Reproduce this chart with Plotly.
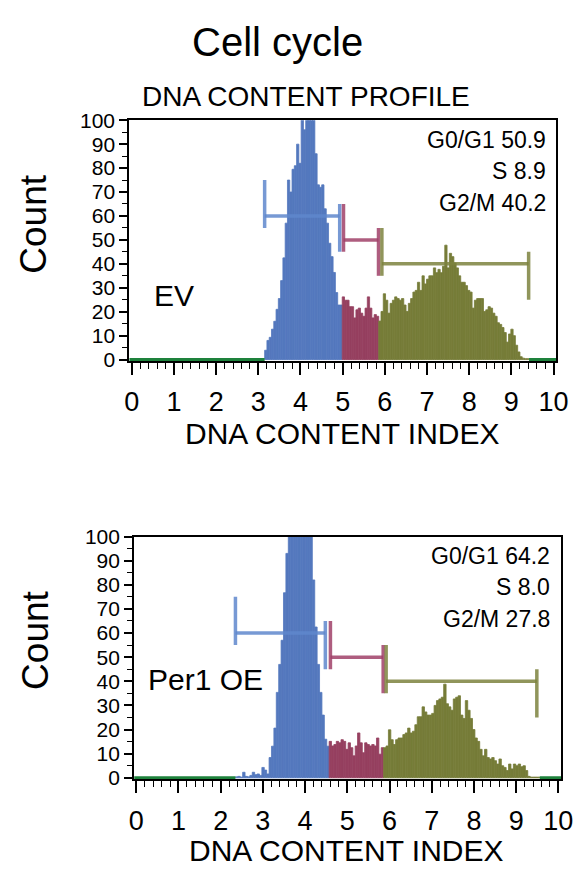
import plotly.graph_objects as go

W, H = 584, 877

# ---------------- data ----------------
# Top panel (EV): DNA content histogram split by cell-cycle phase
ev_g1_range = [3.15, 4.99]
ev_g1_counts = [3.9, 8, 9.3, 12.7, 16, 21, 25.5, 33, 42.5, 57, 75, 70, 79.5, 81, 90, 82,
                105, 96, 110, 112, 110, 108, 86, 73, 72, 73, 63, 57, 48.6, 43, 36.4, 28, 22.8, 22.8]
ev_s_range = [4.99, 5.855]
ev_s_counts = [26.2, 24.8, 24.8, 22.1, 22.1, 17.4, 20.8, 21.5, 19.4, 18.1, 21.5, 26.2,
               21.5, 17.4, 18.8, 18.1]
ev_g2_range = [5.855, 9.42]
ev_g2_counts = [16.1, 20.1, 27.5, 24.8, 19.4, 23.5, 24.8, 26.2, 25.5, 24.8, 25.5, 22.8,
                20.1, 23.5, 25.5, 28.2, 28.9, 32.3, 28.9, 35, 31.6, 33.6, 35, 35,
                38.3, 36.3, 37.7, 36.3, 39, 47.8, 38.3, 44.4, 43, 40.3, 38.3, 35, 32.3,
                32.3, 30.9, 28.9, 28.2, 21.5, 24.8, 25.5, 25.5, 25.5, 20.1, 20.8, 22.1,
                21.5, 19.4, 18.1, 15.4, 14.7, 13.4, 11.3, 7.3, 10.7, 12.7, 10, 6, 3.2,
                1.2, 0.6, 0.4, 0.4]
ev_gates_x = [[3.15, 4.93], [5.02, 5.85], [5.93, 9.41]]
ev_gates_level = [60, 50, 40]
ev_stats = ["G0/G1 50.9", "S 8.9", "G2/M 40.2"]

# Bottom panel (Per1 OE)
pe_g1_range = [2.35, 4.57]
pe_g1_counts = [0.4, 0.6, 0.3, 2.3, 0.6, 0.4, 1.0, 2.3, 1.3, 1.6, 1.0, 4.3, 3.2, 1.6,
                8.4, 13.1, 20.6, 35.4, 47, 57, 76.7, 93, 105, 118, 130, 135, 140, 132,
                125, 118, 110, 104, 82, 62.5, 47, 35.4, 26, 16, 13.1]
pe_s_range = [4.57, 5.86]
pe_s_counts = [15.1, 13.2, 13.8, 15.1, 14.5, 15.8, 15.1, 11.8, 14.5, 12.5, 9.1, 13.2,
               18.6, 14.5, 10.4, 14.5, 13.8, 13.2, 13.8, 13.2, 16.5, 9.8, 12.5]
pe_g2_range = [5.86, 9.56]
pe_g2_counts = [12.5, 13.2, 19.9, 15.8, 13.8, 15.8, 16.5, 16.5, 17.9, 18.6, 20.6, 18.6,
                19.3, 22, 25.3, 25.3,
                29.4, 27.3, 26, 26, 26.7, 30, 32, 32.7, 33.4, 38.8, 30.7, 29.4, 28, 32.7,
                33.4, 34, 26, 24.6, 32, 28, 24.6, 20, 16.5, 15.1, 11.8, 9.1, 11.8, 8.4,
                7.8, 8.4, 7.1, 5.7, 7.8, 5, 4.3, 3, 5.7, 3.7, 5.7, 5, 5.7, 4.6, 5, 3,
                0.6, 0.3, 0.3, 0.3, 0.3]
pe_gates_x = [[2.35, 4.48], [4.6, 5.85], [5.92, 9.49]]
pe_gates_level = [60, 50, 40]
pe_stats = ["G0/G1 64.2", "S 8.0", "G2/M 27.8"]

x_ticks = list(range(0, 11))
y_ticks = list(range(0, 101, 10))
x_ranges = [[-0.06, 10.07], [-0.05, 10.07]]

# ---------------- style ----------------
C_G1 = "#5478be"
C_S = "#964060"
C_G2 = "#767c38"
C_BASE = "#1e823c"
GATE_COLORS = ["rgba(95,135,205,0.85)", "rgba(160,65,105,0.85)", "rgba(125,130,62,0.85)"]
FONT = "Liberation Sans, Arial, sans-serif"
NARROW = "Liberation Sans Narrow, Arial Narrow, Liberation Sans, Arial, sans-serif"

fig = go.Figure()


def add_hist(rng, counts, color, xa, ya):
    n = len(counts)
    w = (rng[1] - rng[0]) / n
    xs = [rng[0] + w * (i + 0.5) for i in range(n)]
    fig.add_trace(go.Bar(x=xs, y=counts, width=w,
                         marker=dict(color=color, line=dict(width=0.8, color=color)),
                         xaxis=xa, yaxis=ya, showlegend=False, hoverinfo="skip"))


def add_base(xr, start, end, xa, ya):
    fig.add_trace(go.Scatter(x=[xr[0], start, None, end, xr[1]], y=[0, 0, None, 0, 0],
                             mode="lines", line=dict(color=C_BASE, width=3),
                             xaxis=xa, yaxis=ya, showlegend=False, hoverinfo="skip"))


def add_gates(gx, levels, xa, ya):
    for (x1, x2), L, col in zip(gx, levels, GATE_COLORS):
        fig.add_trace(go.Scatter(
            x=[x1, x2, None, x1, x1, None, x2, x2],
            y=[L, L, None, L - 5, L + 15, None, L - 15, L + 5],
            mode="lines", line=dict(color=col, width=3.5),
            xaxis=xa, yaxis=ya, showlegend=False, hoverinfo="skip"))


add_base(x_ranges[0], ev_g1_range[0], ev_g2_range[1], "x", "y")
add_hist(ev_g1_range, ev_g1_counts, C_G1, "x", "y")
add_hist(ev_s_range, ev_s_counts, C_S, "x", "y")
add_hist(ev_g2_range, ev_g2_counts, C_G2, "x", "y")
add_gates(ev_gates_x, ev_gates_level, "x", "y")
add_base(x_ranges[1], pe_g1_range[0], pe_g2_range[1], "x2", "y2")
add_hist(pe_g1_range, pe_g1_counts, C_G1, "x2", "y2")
add_hist(pe_s_range, pe_s_counts, C_S, "x2", "y2")
add_hist(pe_g2_range, pe_g2_counts, C_G2, "x2", "y2")
add_gates(pe_gates_x, pe_gates_level, "x2", "y2")


def xaxis(dom, rng, anchor):
    return dict(domain=dom, range=rng, anchor=anchor, tickmode="array", tickvals=x_ticks,
                ticks="outside", ticklen=12, tickwidth=1.5, tickcolor="black",
                minor=dict(dtick=0.2, ticks="outside", ticklen=6, tickwidth=1, tickcolor="black"),
                showline=True, mirror=True, linecolor="black", linewidth=2,
                showgrid=False, zeroline=False, ticklabelstandoff=4,
                tickfont=dict(family=FONT, size=27, color="black"))


def yaxis(dom, anchor):
    return dict(domain=dom, range=[-0.6, 100], anchor=anchor, tickmode="array", tickvals=y_ticks,
                ticks="outside", ticklen=8, tickwidth=1.5, tickcolor="black",
                minor=dict(dtick=5, ticks="outside", ticklen=5, tickwidth=1, tickcolor="black"),
                showline=True, mirror=True, linecolor="black", linewidth=2,
                showgrid=False, zeroline=False,
                tickfont=dict(family=NARROW, size=21, color="black"))


def px(x):
    return x / W


def py(y):
    return 1 - y / H


ann = []


def text(t, x, y, size, xanchor="center", angle=0, family=FONT):
    ann.append(dict(text=t, x=px(x), y=py(y), xref="paper", yref="paper", showarrow=False,
                    xanchor=xanchor, yanchor="middle", textangle=angle,
                    font=dict(family=family, size=size, color="black")))


text("Cell cycle", 281, 31, 40)
text("DNA CONTENT PROFILE", 310, 87, 28)
text("Count", 29, 218, 37, angle=-90)
text("Count", 32, 645, 37, angle=-90)
text("DNA CONTENT INDEX", 348, 432, 30)
text("DNA CONTENT INDEX", 352, 860, 30)
text("EV", 174, 291, 30)
text("Per1 OE", 206, 685, 30)
for s, yy in zip(ev_stats, [131, 163, 196]):
    text(s, 559, yy, 23, xanchor="right")
for s, yy in zip(pe_stats, [558, 590, 623]):
    text(s, 563, yy, 23, xanchor="right")

fig.update_layout(
    width=W, height=H, autosize=False, margin=dict(l=0, r=0, t=0, b=0),
    paper_bgcolor="white", plot_bgcolor="white", barmode="overlay", showlegend=False,
    xaxis=xaxis([128 / W, 568 / W], x_ranges[0], "y"),
    yaxis=yaxis([py(358), py(111)], "x"),
    xaxis2=xaxis([133 / W, 573 / W], x_ranges[1], "y2"),
    yaxis2=yaxis([py(787), py(538)], "x2"),
    annotations=ann,
    font=dict(family=FONT),
)

fig.write_html("out.html",
               config={"displayModeBar": False, "responsive": False},
               post_script="document.body.style.margin='0';document.body.style.overflow='hidden';")
